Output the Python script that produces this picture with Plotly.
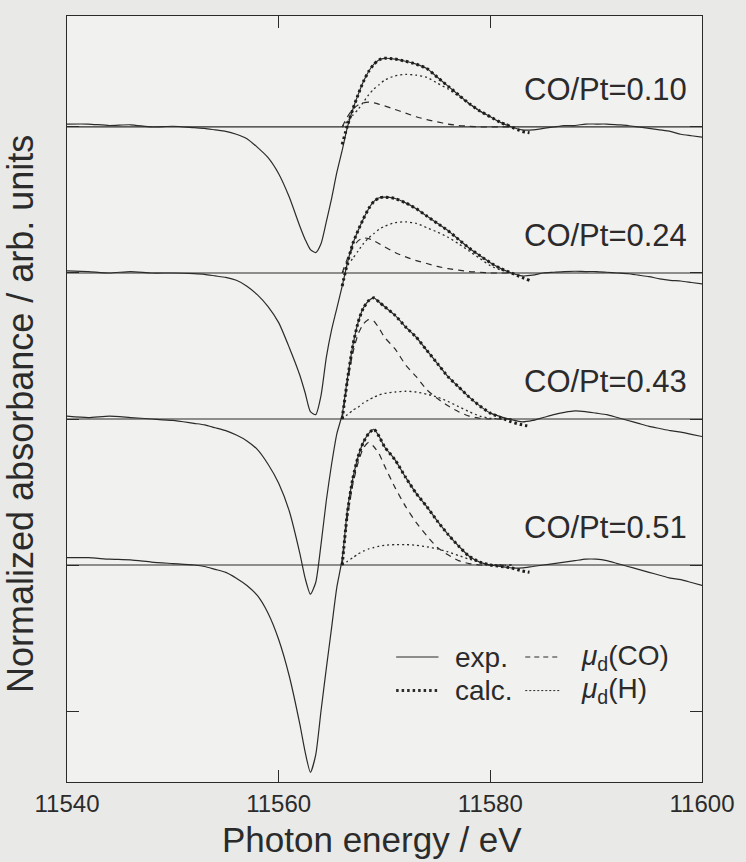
import plotly.graph_objects as go

# ---------------- data ----------------
# photon energy grid of the measured difference spectra (eV)
E_EXP = [11540, 11542, 11544, 11546, 11548, 11550, 11552,
         11553, 11554, 11555, 11556, 11557, 11558, 11559, 11560, 11561,
         11562, 11562.5, 11563, 11563.5, 11564, 11564.5, 11565, 11565.5,
         11566, 11566.5, 11567, 11567.5, 11568, 11568.5, 11569, 11569.5, 11570,
         11571, 11572, 11573, 11574, 11575, 11576, 11577, 11578, 11579, 11580,
         11581, 11582, 11583, 11584, 11585, 11586, 11587, 11588, 11589, 11590,
         11591, 11592, 11593, 11594, 11595, 11596, 11597, 11598, 11599, 11600]

# energy grid of the fitted (calc.) curves
E_CALC = [11566, 11566.5, 11567, 11567.5, 11568, 11568.5, 11569, 11569.5, 11570,
          11571, 11572, 11573, 11574, 11575, 11576, 11577, 11578, 11579, 11580,
          11581, 11582, 11583, 11583.7]

# energy grid of the two fit components
E_COMP = [11566, 11566.5, 11567, 11567.5, 11568, 11568.5, 11569, 11569.5, 11570,
          11571, 11572, 11573, 11574, 11575, 11576, 11577, 11578, 11579, 11580,
          11581, 11582]

labels = ["CO/Pt=0.10", "CO/Pt=0.24", "CO/Pt=0.43", "CO/Pt=0.51"]
offsets = [3.0, 2.0, 1.0, 0.0]

exp_010 = [0.02, 0.02, 0.01, 0.015, 0.0, 0.005, -0.005,
           -0.01, -0.02, -0.03, -0.05, -0.08, -0.14, -0.21, -0.32, -0.48,
           -0.68, -0.77, -0.84, -0.86, -0.80, -0.65, -0.49, -0.31,
           -0.16, 0.00, 0.12, 0.22, 0.31, 0.38, 0.43, 0.46, 0.47,
           0.465, 0.45, 0.43, 0.40, 0.34, 0.28, 0.22, 0.16, 0.11, 0.07,
           0.03, 0.00, -0.02, -0.02, -0.01, 0.00, 0.01, 0.01, 0.02, 0.02,
           0.02, 0.015, 0.01, 0.0, -0.01, -0.02, -0.03, -0.05, -0.06, -0.07]
exp_024 = [0.015, 0.01, 0.0, 0.01, 0.0, 0.0, -0.005,
           -0.01, -0.02, -0.03, -0.05, -0.09, -0.15, -0.23, -0.34, -0.51,
           -0.70, -0.82, -0.95, -0.97, -0.84, -0.58, -0.39, -0.24,
           -0.09, 0.07, 0.20, 0.29, 0.37, 0.44, 0.49, 0.515, 0.52,
           0.51, 0.48, 0.44, 0.39, 0.34, 0.29, 0.23, 0.17, 0.12, 0.07,
           0.03, 0.0, -0.02, -0.015, 0.0, 0.005, 0.01, 0.012, 0.01, 0.01,
           0.005, 0.0, -0.005, -0.015, -0.025, -0.04, -0.05, -0.055, -0.065, -0.075]
exp_043 = [0.02, 0.01, 0.02, 0.01, 0.0, -0.01, -0.03,
           -0.04, -0.06, -0.08, -0.11, -0.15, -0.21, -0.31, -0.44, -0.63,
           -0.92, -1.09, -1.20, -1.12, -0.86, -0.56, -0.31, -0.10,
           0.03, 0.28, 0.50, 0.66, 0.76, 0.81, 0.83, 0.80, 0.77,
           0.71, 0.63, 0.56, 0.47, 0.38, 0.29, 0.22, 0.15, 0.09, 0.04,
           0.015, -0.005, -0.02, -0.01, 0.01, 0.03, 0.045, 0.055, 0.05, 0.04,
           0.03, 0.01, -0.01, -0.03, -0.05, -0.065, -0.08, -0.09, -0.105, -0.12]
exp_051 = [0.05, 0.05, 0.04, 0.035, 0.02, 0.01, 0.0,
           -0.01, -0.03, -0.05, -0.09, -0.14, -0.21, -0.33, -0.51, -0.76,
           -1.09, -1.28, -1.42, -1.30, -1.00, -0.71, -0.43, -0.15,
           0.04, 0.38, 0.59, 0.74, 0.84, 0.90, 0.93, 0.88, 0.81,
           0.72, 0.60, 0.49, 0.40, 0.30, 0.21, 0.13, 0.06, 0.02, 0.0,
           -0.01, -0.02, -0.02, -0.01, 0.0, 0.01, 0.02, 0.03, 0.04, 0.04,
           0.03, 0.01, -0.01, -0.03, -0.05, -0.07, -0.09, -0.10, -0.12, -0.14]

calc_010 = [-0.12, 0.01, 0.12, 0.22, 0.31, 0.38, 0.43, 0.46, 0.47, 0.465, 0.45,
            0.43, 0.40, 0.34, 0.28, 0.22, 0.16, 0.11, 0.07, 0.03, 0.0, -0.03, -0.04]
calc_024 = [-0.09, 0.07, 0.20, 0.29, 0.37, 0.44, 0.49, 0.515, 0.52, 0.51, 0.48,
            0.44, 0.39, 0.34, 0.29, 0.23, 0.17, 0.12, 0.07, 0.03, 0.0, -0.03, -0.05]
calc_043 = [0.0, 0.27, 0.50, 0.66, 0.76, 0.81, 0.83, 0.80, 0.77, 0.71, 0.63,
            0.56, 0.47, 0.38, 0.29, 0.22, 0.15, 0.09, 0.04, 0.01, -0.02, -0.04, -0.05]
calc_051 = [0.0, 0.36, 0.59, 0.74, 0.84, 0.90, 0.93, 0.88, 0.81, 0.72, 0.60,
            0.49, 0.40, 0.30, 0.21, 0.13, 0.06, 0.02, 0.0, -0.01, -0.02, -0.04, -0.05]

co_010 = [0.0, 0.07, 0.12, 0.15, 0.165, 0.17, 0.165, 0.155, 0.145, 0.12, 0.095,
          0.07, 0.05, 0.035, 0.02, 0.01, 0.005, 0.0, 0.0, 0.0, 0.0]
co_024 = [0.0, 0.10, 0.17, 0.22, 0.24, 0.235, 0.22, 0.20, 0.18, 0.14, 0.11,
          0.085, 0.065, 0.045, 0.03, 0.02, 0.01, 0.005, 0.0, 0.0, 0.0]
co_043 = [0.0, 0.25, 0.45, 0.58, 0.65, 0.68, 0.67, 0.62, 0.56, 0.48, 0.37,
          0.29, 0.20, 0.14, 0.09, 0.05, 0.02, 0.005, 0.0, 0.0, 0.0]
co_051 = [0.0, 0.33, 0.55, 0.70, 0.80, 0.84, 0.81, 0.76, 0.68, 0.53, 0.40,
          0.29, 0.20, 0.12, 0.07, 0.03, 0.01, 0.0, 0.0, 0.0, 0.0]

h_010 = [0.0, 0.04, 0.08, 0.12, 0.17, 0.22, 0.26, 0.29, 0.32, 0.35, 0.36,
         0.355, 0.34, 0.30, 0.26, 0.21, 0.16, 0.11, 0.07, 0.035, 0.01]
h_024 = [0.0, 0.05, 0.10, 0.15, 0.20, 0.24, 0.27, 0.30, 0.32, 0.345, 0.35,
         0.34, 0.31, 0.28, 0.245, 0.20, 0.15, 0.10, 0.05, 0.02, 0.005]
h_043 = [0.0, 0.03, 0.06, 0.08, 0.11, 0.13, 0.15, 0.165, 0.175, 0.185, 0.19,
         0.185, 0.17, 0.15, 0.12, 0.085, 0.05, 0.02, 0.005, 0.0, 0.0]
h_051 = [0.0, 0.025, 0.05, 0.075, 0.095, 0.11, 0.12, 0.13, 0.135, 0.14, 0.14,
         0.135, 0.125, 0.11, 0.09, 0.065, 0.04, 0.02, 0.005, 0.0, 0.0]

exp_sets = [exp_010, exp_024, exp_043, exp_051]
calc_sets = [calc_010, calc_024, calc_043, calc_051]
co_sets = [co_010, co_024, co_043, co_051]
h_sets = [h_010, h_024, h_043, h_051]

X_TICKS = [11540, 11560, 11580, 11600]
X_TICK_TEXT = ["11540", "11560", "11580", "11600"]

# ---------------- styling ----------------
INK = "#2b2b2b"
FONT = "Liberation Sans, Arial, Helvetica, sans-serif"

fig = go.Figure()

def add_line(x, y, off, width, dash, color=INK):
    fig.add_trace(go.Scatter(
        x=x, y=[v + off for v in y], mode="lines",
        line=dict(color=color, width=width, dash=dash, shape="spline", smoothing=0.6),
        hoverinfo="skip", showlegend=False))

for i, off in enumerate(offsets):
    # zero line of each spectrum
    fig.add_trace(go.Scatter(x=[X_TICKS[0], X_TICKS[-1]], y=[off, off], mode="lines",
                             line=dict(color=INK, width=1.2), hoverinfo="skip",
                             showlegend=False))
    add_line(E_EXP, exp_sets[i], off, 1.2, "solid")
    add_line(E_COMP, co_sets[i], off, 1.2, "6px,5px")
    add_line(E_COMP, h_sets[i], off, 1.3, "2px,3px")
    add_line(E_CALC, calc_sets[i], off, 3.0, "2.5px,3px", "#1e1e1e")
    fig.add_annotation(x=11598.8, y=off + 0.26, text=labels[i], showarrow=False,
                       xanchor="right", yanchor="middle",
                       font=dict(family=FONT, size=31, color=INK))

# legend: line samples + text
leg_rows = [-0.63, -0.86]
samples = [
    (11571.1, 11575.1, leg_rows[0], 1.2, "solid"),
    (11571.1, 11575.1, leg_rows[1], 3.0, "2.5px,3px"),
    (11583.3, 11586.7, leg_rows[0], 1.2, "5px,4px"),
    (11583.3, 11586.7, leg_rows[1], 1.0, "2px,2px"),
]
for x0, x1, yy, w, d in samples:
    fig.add_shape(type="line", xref="x", yref="y", x0=x0, x1=x1, y0=yy, y1=yy,
                  line=dict(color=INK, width=w, dash=d))
leg_text = [
    (11576.5, leg_rows[0], "exp."),
    (11576.5, leg_rows[1], "calc."),
    (11588.4, leg_rows[0], "<i>μ</i><sub>d</sub>(CO)"),
    (11588.4, leg_rows[1], "<i>μ</i><sub>d</sub>(H)"),
]
for xx, yy, t in leg_text:
    fig.add_annotation(x=xx, y=yy, text=t, showarrow=False, xanchor="left",
                       yanchor="middle", font=dict(family=FONT, size=28, color=INK))

# axis titles
fig.add_annotation(xref="paper", yref="paper", x=0.48, y=-0.0757,
                   text="Photon energy / eV", showarrow=False,
                   xanchor="center", yanchor="middle",
                   font=dict(family=FONT, size=35, color=INK))
fig.add_annotation(xref="paper", yref="paper", x=-0.0730, y=0.48,
                   text="Normalized absorbance / arb. units", showarrow=False,
                   textangle=-90, xanchor="center", yanchor="middle",
                   font=dict(family=FONT, size=36, color=INK))

fig.update_xaxes(range=[11540, 11600], tickvals=X_TICKS, ticktext=X_TICK_TEXT,
                 ticks="inside", ticklen=12,
                 tickcolor=INK, tickwidth=1.2, showline=True, linecolor=INK,
                 linewidth=1.2, mirror="ticks", showgrid=False, zeroline=False,
                 tickfont=dict(family=FONT, size=24, color=INK))
fig.update_yaxes(range=[-1.486, 3.76], dtick=1, tick0=0, ticks="inside", ticklen=12,
                 tickcolor=INK, tickwidth=1.2, showline=True, linecolor=INK,
                 linewidth=1.2, mirror="ticks", showgrid=False, zeroline=False,
                 showticklabels=False)

fig.update_layout(width=746, height=862,
                  margin=dict(l=67, r=33, t=16, b=80),
                  paper_bgcolor="#e9e9e7", plot_bgcolor="#f1f1ef",
                  showlegend=False)

fig.write_html("out.html")
